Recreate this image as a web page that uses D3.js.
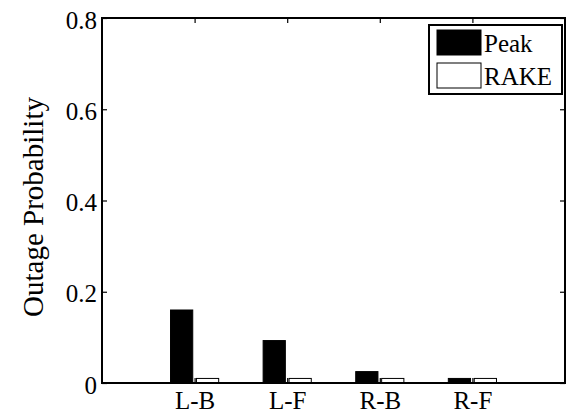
<!DOCTYPE html>
<meta charset="utf-8">
<title>Outage Probability</title>
<style>
body { margin: 0; background: #fff; }
text { font-family: "Liberation Serif", "Times New Roman", serif; fill: #000; }
</style>
<svg></svg>
<script src="https://d3js.org/d3.v7.min.js"></script>
<script>
var width = 566, height = 413;

// data
var categories = ["L-B", "L-F", "R-B", "R-F"];
var series = ["Peak", "RAKE"];
var peak = [0.16, 0.093, 0.025, 0.01];
var rake = [0.01, 0.01, 0.01, 0.01];
var yTicks = [0, 0.2, 0.4, 0.6, 0.8];

var margin = {left: 102, right: 1, top: 18, bottom: 30};
var serif = "Liberation Serif, Times New Roman, serif";

var svg = d3.select("svg").attr("width", width).attr("height", height);

var x = d3.scaleLinear()
  .domain([0, categories.length + 1])
  .range([margin.left, width - margin.right]);

var y = d3.scaleLinear()
  .domain([0, 0.8])
  .range([height - margin.bottom, margin.top]);

var barW = 0.24, off = 0.14;
var fills = ["#000", "#fff"];
var vals = [peak, rake];

// bars
vals.forEach(function(v, s) {
  svg.append("g")
    .selectAll("rect")
    .data(v)
    .enter()
    .append("rect")
    .attr("x", (d, i) => x(i + 1 + (s === 0 ? -off : off) - barW / 2))
    .attr("width", x(barW) - x(0))
    .attr("y", d => y(d))
    .attr("height", d => y(0) - y(d))
    .attr("fill", fills[s])
    .attr("stroke", "#000")
    .attr("stroke-width", 1);
});

// axes
var xAxis = d3.axisBottom(x)
  .tickValues(d3.range(1, categories.length + 1))
  .tickFormat(d => categories[d - 1])
  .tickSizeInner(-5).tickSizeOuter(0).tickPadding(8);

var yAxis = d3.axisLeft(y)
  .tickValues(yTicks)
  .tickFormat(d => d === 0 ? "0" : d3.format(".1f")(d))
  .tickSizeInner(-5).tickSizeOuter(0).tickPadding(5);

svg.append("g")
  .attr("transform", "translate(0," + y(0) + ")")
  .call(xAxis)
  .attr("font-family", serif);

svg.append("g")
  .attr("transform", "translate(" + x(0) + ",0)")
  .call(yAxis)
  .attr("font-family", serif)
  .selectAll("text").attr("dy", "0.4em");

// mirrored ticks top / right
svg.append("g")
  .attr("transform", "translate(0," + y(0.8) + ")")
  .call(d3.axisTop(x).tickValues(d3.range(1, categories.length + 1)).tickFormat("").tickSizeInner(-5).tickSizeOuter(0));
svg.append("g")
  .attr("transform", "translate(" + x(categories.length + 1) + ",0)")
  .call(d3.axisRight(y).tickValues(yTicks).tickFormat("").tickSizeInner(-5).tickSizeOuter(0));

svg.selectAll(".domain").remove();
svg.selectAll(".tick line").attr("stroke", "#000").attr("stroke-width", 1.2);
svg.selectAll(".tick text").attr("font-size", 25);

// frame
svg.append("rect")
  .attr("x", x(0))
  .attr("y", y(0.8))
  .attr("width", x(categories.length + 1) - x(0))
  .attr("height", y(0) - y(0.8))
  .attr("fill", "none")
  .attr("stroke", "#000")
  .attr("stroke-width", 2);

// y label
svg.append("text")
  .attr("transform", "translate(43,207) rotate(-90)")
  .attr("text-anchor", "middle")
  .attr("font-size", 29)
  .text("Outage Probability");

// legend
var lg = svg.append("g").attr("transform", "translate(429,25)");
lg.append("rect")
  .attr("width", 133).attr("height", 69)
  .attr("fill", "#fff").attr("stroke", "#000").attr("stroke-width", 2);
series.forEach(function(s, i) {
  lg.append("rect")
    .attr("x", 8).attr("y", 5 + i * 33)
    .attr("width", 44).attr("height", 25)
    .attr("fill", fills[i]).attr("stroke", "#000").attr("stroke-width", 1);
  lg.append("text")
    .attr("x", 55).attr("y", 18 + i * 33)
    .attr("dy", "0.35em")
    .attr("font-size", 25)
    .text(s);
});
</script>
